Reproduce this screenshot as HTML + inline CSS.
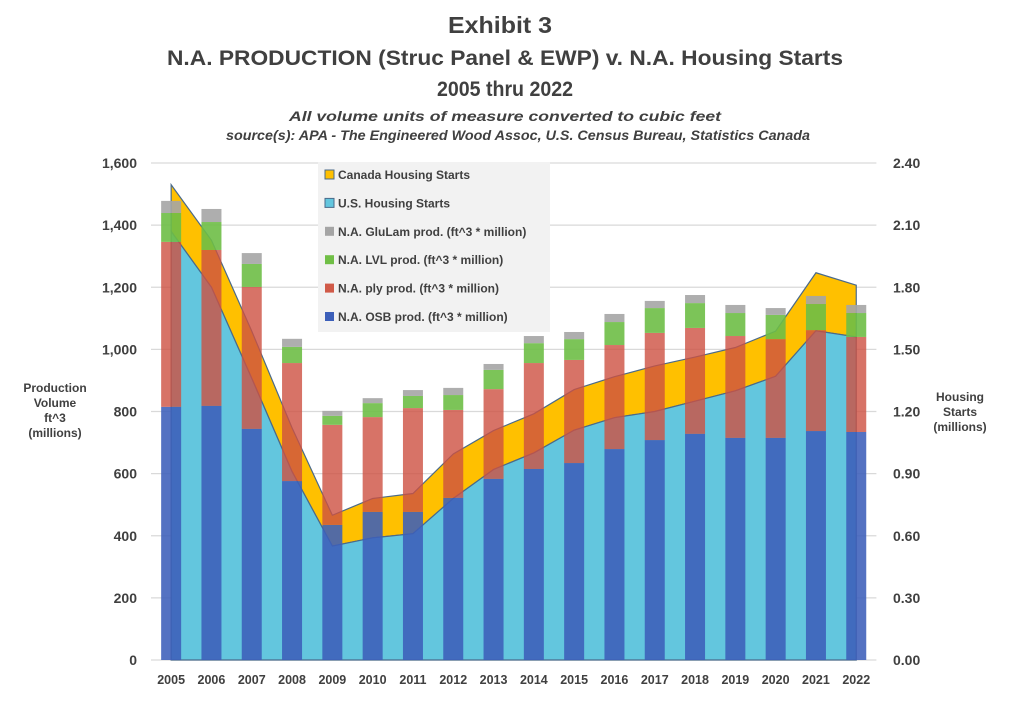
<!DOCTYPE html>
<html><head><meta charset="utf-8"><style>
body{margin:0;background:#fff;width:1011px;height:697px;overflow:hidden;font-family:"Liberation Sans",sans-serif}
svg text{font-family:"Liberation Sans",sans-serif}
</style></head><body>
<svg id="chart" width="1011" height="697" xmlns="http://www.w3.org/2000/svg">
<g font-weight="bold" fill="#404040" text-anchor="middle">
<text x="500" y="33" font-size="23" textLength="104" lengthAdjust="spacingAndGlyphs">Exhibit 3</text>
<text x="505" y="65" font-size="21" textLength="676" lengthAdjust="spacingAndGlyphs">N.A. PRODUCTION (Struc Panel &amp; EWP) v. N.A. Housing Starts</text>
<text x="505" y="96" font-size="21" textLength="136" lengthAdjust="spacingAndGlyphs">2005 thru 2022</text>
</g>
<g font-weight="bold" font-style="italic" fill="#404040" text-anchor="middle" font-size="14">
<text x="505" y="121" textLength="432" lengthAdjust="spacingAndGlyphs">All volume units of measure converted to cubic feet</text>
<text x="518" y="140" textLength="584" lengthAdjust="spacingAndGlyphs">source(s):  APA - The Engineered Wood Assoc, U.S. Census Bureau, Statistics Canada</text>
</g>
<g id="grid"></g><g id="areas"></g><g id="bars"></g><g id="axes"></g>
<g font-weight="bold" fill="#404040" font-size="12" text-anchor="middle">
<text x="55" y="392">Production</text><text x="55" y="407">Volume</text><text x="55" y="422">ft^3</text><text x="55" y="437">(millions)</text>
</g>
<g font-weight="bold" fill="#404040" font-size="12" text-anchor="middle">
<text x="960" y="401">Housing</text><text x="960" y="416">Starts</text><text x="960" y="431">(millions)</text>
</g>
<g>
<rect x="318" y="162" width="232" height="170" fill="#f2f2f2"/>
<g id="legend-items" font-size="12" font-weight="bold" fill="#404040"></g>
</g>
</svg>
<script>
const years=['2005','2006','2007','2008','2009','2010','2011','2012','2013','2014','2015','2016','2017','2018','2019','2020','2021','2022'];
const osb=[815,818,744,576,435,477,477,522,583,615,634,679,708,728,715,715,737,734];
const ply=[531,502,457,380,322,305,334,283,289,341,332,335,345,341,328,318,325,306];
const lvl=[93,90,74,52,29,45,39,48,62,64,67,74,80,80,74,78,84,77];
const glulam=[39,42,35,26,16,16,19,23,19,23,23,26,23,26,26,22,26,26];
const usStarts=[2.07,1.80,1.36,0.91,0.55,0.59,0.61,0.78,0.92,1.00,1.11,1.17,1.20,1.25,1.30,1.37,1.59,1.56];
const canStarts=[0.225,0.227,0.228,0.211,0.149,0.19,0.194,0.215,0.188,0.189,0.196,0.198,0.22,0.213,0.209,0.218,0.28,0.25];
const leftTicks=[0,200,400,600,800,1000,1200,1400,1600];
const rightTicks=['0.00','0.30','0.60','0.90','1.20','1.50','1.80','2.10','2.40'];

const NS='http://www.w3.org/2000/svg';
const X0=151,STEP=40.3,Y0=660,YT=163;
const xc=i=>X0+STEP*(i+0.5);
const yL=v=>Y0-(v/1600)*(Y0-YT);
const yR=v=>Y0-(v/2.4)*(Y0-YT);
function mk(tag,attrs,parent){const e=document.createElementNS(NS,tag);for(const k in attrs)e.setAttribute(k,attrs[k]);parent.appendChild(e);return e;}
const grid=document.getElementById('grid'),axes=document.getElementById('axes');
leftTicks.forEach((t,i)=>{
  const l=mk('line',{x1:X0,x2:X0+STEP*18,y1:yL(t),y2:yL(t),stroke:'#d9d9d9','stroke-width':1.2},grid);
  
  
  const a=mk('text',{x:137,y:yL(t)+5,'text-anchor':'end','font-size':14,'font-weight':'bold',fill:'#404040'},axes);a.textContent=t.toLocaleString('en-US');
  
  
  const b=mk('text',{x:893,y:yL(t)+5,'font-size':14,'font-weight':'bold',fill:'#404040'},axes);b.textContent=rightTicks[i];
  
  
});
years.forEach((y,i)=>{
  const t=mk('text',{x:xc(i),y:684,'text-anchor':'middle','font-size':12.5,'font-weight':'bold',fill:'#404040'},axes);t.textContent=y;
  
  
});
const areas=document.getElementById('areas');
const tot=usStarts.map((u,i)=>u+canStarts[i]);
const usPts=usStarts.map((v,i)=>xc(i)+','+yR(v));
const totPts=tot.map((v,i)=>xc(i)+','+yR(v));
const canArea=mk('polygon',{points:totPts.join(' ')+' '+usPts.slice().reverse().join(' '),fill:'#ffc000',stroke:'#4a6a8a','stroke-width':1.2},areas);


const usArea=mk('polygon',{points:xc(0)+','+Y0+' '+usPts.join(' ')+' '+xc(17)+','+Y0,fill:'#63c6de',stroke:'#4a6a8a','stroke-width':1.2},areas);


const bars=document.getElementById('bars');
const series=[[osb,'rgba(60,95,185,0.88)','osb'],[ply,'rgba(205,80,65,0.8)','ply'],[lvl,'rgba(110,190,70,0.9)','lvl'],[glulam,'rgba(165,165,165,0.9)','glulam']];
years.forEach((y,i)=>{
  let base=0;
  series.forEach(([arr,col,nm])=>{
    const top=base+arr[i];
    const r=mk('rect',{x:xc(i)-10,y:yL(top),width:20,height:yL(base)-yL(top),fill:col},bars);
    
    
    base=top;
  });
});
const li=document.getElementById('legend-items');
const leg=[['Canada Housing Starts','#ffc000','#4a6a8a'],['U.S. Housing Starts','#63c6de','#4a6a8a'],['N.A. GluLam prod. (ft^3 * million)','#a5a5a5',null],['N.A. LVL prod. (ft^3 * million)','#70bf46',null],['N.A. ply prod. (ft^3 * million)','#d05a48',null],['N.A. OSB prod. (ft^3 * million)','#3c5fb9',null]];
leg.forEach((e,i)=>{
  const y=175+i*28.4;
  const g=mk('g',{},li);
  
  
  const r={x:325,y:y-5,width:9,height:9,fill:e[1]};if(e[2]){r.stroke=e[2];r['stroke-width']=1;}
  mk('rect',r,g);
  const t=mk('text',{x:338,y:y+4},g);t.textContent=e[0];
});
</script>
</body></html>
